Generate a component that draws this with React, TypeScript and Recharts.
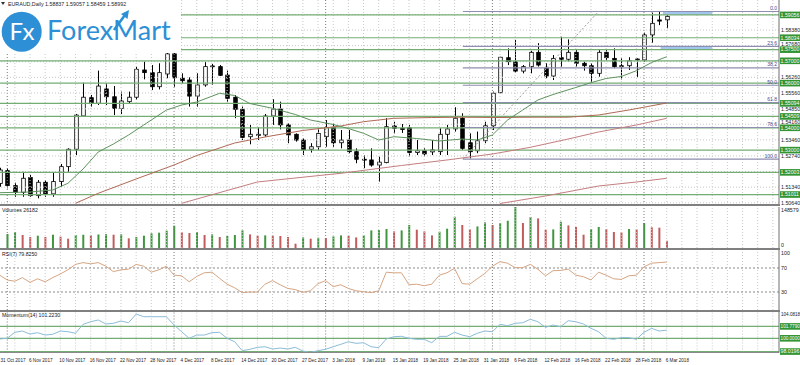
import React from "react";
import { ComposedChart, Bar, Line, XAxis, YAxis, ReferenceLine, ReferenceArea, Cell } from "recharts";

// EURAUD daily, 31 Oct 2017 .. 6 Mar 2018 (index = bar number)
const dateLabels = [
  "31 Oct 2017", "6 Nov 2017", "10 Nov 2017", "16 Nov 2017", "22 Nov 2017", "28 Nov 2017",
  "4 Dec 2017", "8 Dec 2017", "14 Dec 2017", "20 Dec 2017", "27 Dec 2017", "3 Jan 2018",
  "9 Jan 2018", "15 Jan 2018", "19 Jan 2018", "25 Jan 2018", "31 Jan 2018", "6 Feb 2018",
  "12 Feb 2018", "16 Feb 2018", "22 Feb 2018", "28 Feb 2018", "6 Mar 2018",
];
const dateIdx = [0, 4, 8, 12, 16, 20, 24, 28, 32, 36, 40, 44, 48, 52, 56, 60, 64, 68, 72, 76, 80, 84, 88];
const monthStarts = [1, 23, 43, 65, 85];

const opens = [1.5151,1.5208,1.5141,1.5111,1.5177,1.5096,1.5156,1.5104,1.5159,1.5226,
  1.5304,1.5453,1.5535,1.5510,1.5574,1.5539,1.5487,1.5517,1.5537,1.5659,
  1.5647,1.5584,1.5641,1.5731,1.5622,1.5614,1.5542,1.5592,1.5677,1.5674,
  1.5636,1.5537,1.5483,1.5360,1.5365,1.5368,1.5453,1.5484,1.5413,1.5371,
  1.5345,1.5304,1.5315,1.5360,1.5402,1.5333,1.5345,1.5293,1.5259,1.5256,
  1.5233,1.5244,1.5408,1.5398,1.5400,1.5289,1.5297,1.5292,1.5293,1.5371,
  1.5395,1.5443,1.5333,1.5297,1.5342,1.5409,1.5557,1.5714,1.5696,1.5654,
  1.5674,1.5738,1.5667,1.5632,1.5714,1.5707,1.5738,1.5689,1.5678,1.5644,
  1.5738,1.5711,1.5678,1.5678,1.5704,1.5704,1.5816,1.5883,1.58837];
const highs = [1.5221,1.5219,1.5154,1.5203,1.5189,1.5166,1.5166,1.5199,1.5238,1.5308,
  1.5462,1.5602,1.5547,1.5656,1.5599,1.5587,1.5562,1.5562,1.5674,1.5696,
  1.5681,1.5689,1.5741,1.5741,1.5644,1.5626,1.5644,1.5696,1.5686,1.5681,
  1.5656,1.5547,1.5495,1.5413,1.5402,1.5462,1.5528,1.5517,1.5420,1.5375,
  1.5353,1.5331,1.5398,1.5435,1.5420,1.5390,1.5390,1.5308,1.5278,1.5308,
  1.5271,1.5443,1.5427,1.5417,1.5413,1.5345,1.5308,1.5345,1.5398,1.5413,
  1.5492,1.5465,1.5375,1.5383,1.5427,1.5562,1.5718,1.5756,1.5793,1.5681,
  1.5745,1.5779,1.5689,1.5726,1.5808,1.5796,1.5748,1.5696,1.5689,1.5748,
  1.5748,1.5756,1.5711,1.5716,1.5711,1.5826,1.5916,1.5921,1.59057];
const lows = [1.5136,1.5129,1.5091,1.5091,1.5091,1.5084,1.5091,1.5091,1.5136,1.5203,
  1.5278,1.5450,1.5495,1.5502,1.5502,1.5457,1.5462,1.5510,1.5525,1.5617,
  1.5569,1.5572,1.5622,1.5584,1.5599,1.5495,1.5495,1.5584,1.5592,1.5632,
  1.5517,1.5443,1.5345,1.5326,1.5345,1.5360,1.5413,1.5393,1.5331,1.5338,
  1.5278,1.5289,1.5301,1.5315,1.5315,1.5308,1.5286,1.5241,1.5219,1.5226,
  1.5159,1.5241,1.5375,1.5377,1.5271,1.5278,1.5271,1.5278,1.5278,1.5278,
  1.5383,1.5301,1.5263,1.5286,1.5331,1.5390,1.5555,1.5681,1.5647,1.5644,
  1.5644,1.5674,1.5622,1.5614,1.5674,1.5696,1.5674,1.5656,1.5602,1.5629,
  1.5704,1.5667,1.5617,1.5659,1.5626,1.5696,1.5781,1.5860,1.58459];
const closes = [1.5211,1.5141,1.5111,1.5174,1.5096,1.5156,1.5104,1.5159,1.5226,1.5304,
  1.5457,1.5537,1.5510,1.5587,1.5539,1.5487,1.5520,1.5537,1.5662,1.5647,
  1.5584,1.5647,1.5731,1.5624,1.5611,1.5542,1.5592,1.5674,1.5674,1.5635,
  1.5532,1.5483,1.5357,1.5371,1.5371,1.5453,1.5484,1.5413,1.5368,1.5345,
  1.5301,1.5315,1.5375,1.5402,1.5333,1.5345,1.5293,1.5259,1.5256,1.5233,
  1.5246,1.5405,1.5398,1.5392,1.5289,1.5297,1.5283,1.5301,1.5371,1.5395,
  1.5443,1.5308,1.5293,1.5342,1.5409,1.5555,1.5716,1.5696,1.5654,1.5674,
  1.5738,1.5681,1.5632,1.5711,1.5707,1.5738,1.5689,1.5678,1.5644,1.5738,
  1.5714,1.5674,1.5675,1.5700,1.5708,1.5816,1.5868,1.5878,1.58992];
const volumes = [null,50700,58000,47100,39900,44600,39900,48200,41000,33700,
  47100,48000,46000,49000,50000,48200,49400,35000,39900,44600,
  53100,55500,62800,80900,56800,54300,58000,47100,49400,39900,
  43500,47100,64000,49300,44600,45700,45000,43500,39900,15600,
  38400,33700,37300,36200,42000,45700,44600,38400,45700,63800,
  64900,68900,60200,63800,83400,66300,60200,45700,59100,69900,
  113400,83400,67400,78300,92800,83400,90600,98900,148579,90600,
  112300,107300,66300,67400,95300,81900,76100,48200,68900,76100,
  68900,58000,56500,68900,67400,90600,74700,73600,26182];
const rsi7 = [58,50,48,54,46,52,47,54,60,67,
  76,79,77,79,73,64,67,68,76,73,
  63,67,73,58,57,47,56,62,63,53,
  43,37,29,30,30,43,49,42,36,34,
  29.5,32,44,49,39,42,36,32,30.5,29,
  32,63,62,62,42,43,40.5,43,58,62,
  69.5,44,43,52,61,73,80.5,78,70.5,70.5,
  76,68,57,65.5,66,68,58,55.5,50,63,
  58,52,51,57,58,72,78,79,79.825];
const momentum14 = [99.9,100.0,100.9,101.09,100.64,100.84,100.49,100.6,101.09,100.99,
  100.75,102.09,102.48,102.74,102.14,102.24,102.59,102.33,103.63,103.23,
  103.23,103.23,103.23,101.99,100.99,100.0,100.49,100.49,100.84,100.9,
  100.0,99.49,98.15,98.36,98.65,98.74,98.4,98.55,98.4,98.65,
  98.1,97.9,98.15,98.36,98.74,99.1,99.49,99.25,99.34,98.74,
  98.6,99.9,100.24,100.3,100.0,99.85,99.85,99.34,100.29,100.29,
  100.9,100.49,100.24,100.75,101.09,100.99,102.09,101.89,102.24,102.33,
  102.84,102.48,101.64,101.99,101.73,102.63,102.48,102.14,101.49,100.99,
  100.0,99.85,100.1,100.1,99.85,100.9,101.49,101.09,101.223];

// moving averages, read at a few bars
const maGreenIdx = [0,4,7,9,11,13,15,17,19,22,24,26,29,31,33,36,39,41,44,46,48,50,52,55,58,61,63,65,67,69,71,73,76,78,80,82,84,86,88];
const maGreenVal = [1.51093,1.51124,1.51214,1.51514,1.52154,1.52916,1.53274,1.53677,1.54125,1.54797,1.55021,1.55155,1.55545,1.55447,1.55088,1.54873,1.54596,1.54349,1.54148,1.53968,1.53753,1.53453,1.53601,1.53521,1.53409,1.53498,1.53453,1.53677,1.54349,1.54797,1.55245,1.55491,1.55805,1.5602,1.56208,1.56298,1.56557,1.56925,1.57184];
const maBrownIdx = [10,13,18,23,26,31,35,40,45,48,52,57,61,66,70,75,79,83,88];
const maBrownVal = [1.50618,1.51066,1.51707,1.52334,1.52759,1.53319,1.53588,1.53879,1.5408,1.54273,1.54425,1.5446,1.54475,1.5446,1.54475,1.54475,1.54573,1.54797,1.55111];
const maPinkIdx = [24,30,34,40,45,53,59,65,70,75,79,84,88];
const maPinkVal = [1.50618,1.51192,1.51572,1.51787,1.51962,1.52311,1.52558,1.52826,1.53126,1.53498,1.53812,1.54125,1.54425];
const maSlowIdx = [66,72,79,84,88];
const maSlowVal = [1.50609,1.50945,1.51393,1.51572,1.51738];

const levels = [1.59056, 1.58034, 1.575, 1.57, 1.56, 1.55094, 1.54509, 1.54, 1.53, 1.52003, 1.51011];
const fibLevels = [1.59209, 1.57649, 1.56684, 1.55905, 1.55125, 1.54014, 1.526];
const fibNames = ["0.0", "23.6", "38.2", "50.0", "61.8", "78.6", "100.0"];
const priceTicks = [1.5064, 1.5134, 1.5274, 1.5346, 1.5416, 1.5485, 1.5556, 1.5626, 1.5768, 1.5838];
const priceGrid = [1.5064, 1.5134, 1.5204, 1.5274, 1.5346, 1.5416, 1.5485, 1.5556, 1.5626, 1.5696, 1.5768, 1.5838, 1.5908];
const momLevels = [101.779, 100, 98.0196];
const momLabels = ["101.7790", "100.0000", "98.0196"];

const X_DOM: [number, number] = [0.04, 102.81];
const FONT = "'Liberation Sans', Arial, sans-serif";
const GREEN = "#74ad74";

const bars = opens.map((o, i) => ({
  i, o, h: highs[i], l: lows[i], c: closes[i], v: volumes[i], r: rsi7[i], m: momentum14[i],
}));
const toPts = (idx: number[], val: number[]) => idx.map((i, k) => ({ i, v: val[k] }));
const gridIdx = Array.from({ length: 52 }, (_, k) => k * 2);

function Candle(props: any) {
  const { x, y, width, height, payload } = props;
  if (x == null || payload == null) return null;
  const { o, h, l, c } = payload;
  const top = Math.min(y, y + height);
  const bot = Math.max(y, y + height);
  const k = h === l ? 0 : (bot - top) / (h - l);
  const yO = top + (h - o) * k;
  const yC = top + (h - c) * k;
  const cx = Math.round(x + width / 2) + 0.5;
  const bt = Math.min(yO, yC);
  const bh = Math.max(Math.abs(yO - yC), 0.8);
  return (
    <g>
      <line x1={cx} x2={cx} y1={top} y2={bot} stroke="#000" strokeWidth={1} />
      <rect x={cx - 1.8} y={bt} width={3.6} height={bh} fill={c >= o ? "#fff" : "#000"} stroke="#000" strokeWidth={0.8} />
    </g>
  );
}

const BoxLabel = (props: any) => {
  const { viewBox, text } = props;
  if (!viewBox) return null;
  const x = viewBox.x + viewBox.width + 1;
  return (
    <g>
      <rect x={x} y={viewBox.y - 3.3} width={20} height={6.6} fill="#339433" />
      <text x={x + 0.6} y={viewBox.y} dy="0.35em" fontSize={text.length > 7 ? 4.6 : 5.2} fill="#fff" fontFamily={FONT}>{text}</text>
    </g>
  );
};

const FibLabel = (props: any) => {
  const { viewBox, text } = props;
  if (!viewBox) return null;
  return (
    <text x={viewBox.x + viewBox.width - 2} y={viewBox.y - 1.5} textAnchor="end" fontSize={5} fill="#4a4a90" fontFamily={FONT}>{text}</text>
  );
};

function rightTick(fmt: (v: number) => string, shift: (v: number) => number = () => 0) {
  return (p: any) => {
    const s = fmt(p.payload.value);
    return (
      <text x={781} y={p.y + shift(p.payload.value)} dy="0.35em" fontSize={s.length > 7 ? 4.6 : 5.3} fill="#222" fontFamily={FONT}>
        {s}
      </text>
    );
  };
}

// price labels that sit just above a highlighted level are nudged up, as in the terminal
const priceShift = (v: number) => (v === 1.5416 || v === 1.5768 ? -1.8 : 0);

const DateTick = (p: any) => (
  <text x={Math.max(p.x - 1, 0.5)} y={51} fontSize={4.6} fill="#222" fontFamily={FONT}>
    {dateLabels[dateIdx.indexOf(p.payload.value)]}
  </text>
);

function vGrid(id: string) {
  return [
    ...gridIdx.map((k) => <ReferenceLine key={id + "g" + k} x={k} stroke="#c8c8c8" strokeDasharray="1 2" />),
    ...monthStarts.map((k) => <ReferenceLine key={id + "m" + k} x={k} stroke="#7a7a7a" strokeDasharray="1 2" />),
  ];
}

const hiddenX = <XAxis type="number" dataKey="i" domain={X_DOM} allowDataOverflow hide />;
const margin = { top: 0, right: 0, bottom: 0, left: 0 };

function PricePane() {
  return (
    <ComposedChart width={800} height={205} data={bars} margin={margin}>
      {hiddenX}
      <YAxis orientation="right" width={21} domain={[1.50542, 1.59724]} allowDataOverflow ticks={priceTicks} interval={0}
        tickLine={false} axisLine={{ stroke: "#6e6e6e" }} tick={rightTick((v) => v.toFixed(5), priceShift)} />
      {vGrid("p")}
      {priceGrid.map((v) => <ReferenceLine key={"hg" + v} y={v} stroke="#c8c8c8" strokeDasharray="1 2" />)}
      {levels.map((v) => (
        <ReferenceLine key={"lv" + v} y={v} stroke={GREEN} strokeWidth={1.2} label={<BoxLabel text={v.toFixed(5)} />} />
      ))}
      {fibLevels.map((v, k) => (
        <ReferenceLine key={"fb" + v} segment={[{ x: 61.1, y: v }, { x: 102.8, y: v }]} stroke="#8e8eb0" strokeWidth={1.2}
          label={<FibLabel text={fibNames[k]} />} />
      ))}
      <ReferenceArea x1={87.5} x2={94} y1={1.59052} y2={1.59231} fill="#9fc6ee" fillOpacity={1} stroke="none" />
      <ReferenceArea x1={87.2} x2={94} y1={1.57529} y2={1.57664} fill="#9fc6ee" fillOpacity={1} stroke="none" />
      <ReferenceLine segment={[{ x: 61.1, y: 1.526 }, { x: 79, y: 1.59209 }]} stroke="#9a9a9a" strokeDasharray="2 2" />
      <Line data={toPts(maSlowIdx, maSlowVal)} dataKey="v" stroke="#c47e80" strokeWidth={1} dot={false} activeDot={false} isAnimationActive={false} />
      <Line data={toPts(maPinkIdx, maPinkVal)} dataKey="v" stroke="#c47e80" strokeWidth={1} dot={false} activeDot={false} isAnimationActive={false} />
      <Line data={toPts(maBrownIdx, maBrownVal)} dataKey="v" stroke="#b06a55" strokeWidth={1} dot={false} activeDot={false} isAnimationActive={false} />
      <Line data={toPts(maGreenIdx, maGreenVal)} dataKey="v" stroke="#5d935d" strokeWidth={1} dot={false} activeDot={false} isAnimationActive={false} />
      <Bar dataKey={(d: any) => [d.l, d.h]} barSize={4} shape={<Candle />} activeBar={false} isAnimationActive={false} />
    </ComposedChart>
  );
}

function VolumePane() {
  return (
    <ComposedChart width={800} height={41} data={bars} margin={margin}>
      {hiddenX}
      <YAxis orientation="right" width={21} domain={[0, 148579]} allowDataOverflow ticks={[0, 148579]} interval={0}
        tickLine={false} axisLine={{ stroke: "#6e6e6e" }} tick={rightTick((v) => String(v), (v) => (v === 0 ? -3 : 3))} />
      {vGrid("v")}
      <Bar dataKey="v" barSize={2} activeBar={false} isAnimationActive={false}>
        {bars.map((d, i) => (
          <Cell key={i} fill={i === 0 || (d.v ?? 0) > (volumes[i - 1] ?? 0) ? "#3f963f" : "#c25c5c"} />
        ))}
      </Bar>
    </ComposedChart>
  );
}

function RsiPane() {
  return (
    <ComposedChart width={800} height={60} data={bars} margin={margin}>
      {hiddenX}
      <YAxis orientation="right" width={21} domain={[0, 100]} allowDataOverflow ticks={[30, 70, 100]} interval={0}
        tickLine={false} axisLine={{ stroke: "#6e6e6e" }} tick={rightTick((v) => String(v), (v) => (v === 100 ? 2.7 : 0))} />
      {vGrid("r")}
      <ReferenceLine y={70} stroke="#8a8a8a" strokeDasharray="2 2" />
      <ReferenceLine y={30} stroke="#8a8a8a" strokeDasharray="2 2" />
      <Line dataKey="r" stroke="#d6a582" strokeWidth={1} dot={false} activeDot={false} isAnimationActive={false} />
    </ComposedChart>
  );
}

function MomentumPane() {
  return (
    <ComposedChart width={800} height={54} data={bars} margin={margin}>
      <XAxis type="number" dataKey="i" domain={X_DOM} allowDataOverflow ticks={dateIdx} interval={0} height={12.5}
        tickLine={false} axisLine={{ stroke: "#8a8a8a" }} tick={<DateTick />} />
      <YAxis orientation="right" width={21} domain={[97.88, 104.0818]} allowDataOverflow ticks={[104.0818]} interval={0}
        tickLine={false} axisLine={{ stroke: "#6e6e6e" }} tick={rightTick((v) => v.toFixed(4), () => 3)} />
      {vGrid("m")}
      {momLevels.map((v, k) => (
        <ReferenceLine key={"ml" + v} y={v} stroke={GREEN} strokeWidth={1.2} label={<BoxLabel text={momLabels[k]} />} />
      ))}
      <Line dataKey="m" stroke="#8bbcd8" strokeWidth={1} dot={false} activeDot={false} isAnimationActive={false} />
    </ComposedChart>
  );
}

const sep = (top: number) => (
  <div style={{ position: "absolute", left: 0, top, width: 780, height: 2, background: "#808080" }} />
);

export default function App() {
  return (
    <div style={{ position: "absolute", left: 0, top: 0, width: 800, height: 365, background: "#fff", overflow: "hidden" }}>
      <div style={{ position: "absolute", left: 0, top: 0 }}><PricePane /></div>
      <div style={{ position: "absolute", left: 0, top: 207 }}><VolumePane /></div>
      <div style={{ position: "absolute", left: 0, top: 250 }}><RsiPane /></div>
      <div style={{ position: "absolute", left: 0, top: 311 }}><MomentumPane /></div>
      {sep(204)}
      {sep(248)}
      {sep(309.5)}
      <svg width={800} height={365} style={{ position: "absolute", left: 0, top: 0, pointerEvents: "none" }}>
        <rect x={0} y={0} width={181} height={53} fill="#fff" />
        <path d="M1,2 L5,2 L3,5 Z" fill="#333" />
        <text x={8} y={5.5} fontSize={5.3} fill="#222" fontFamily={FONT}>EURAUD,Daily  1.58837 1.59057 1.58459 1.58992</text>
        <circle cx={21.7} cy={31.7} r={20} fill="#2d8fd5" />
        <text x={9.5} y={39.5} fontSize={24} fill="#fff" fontFamily="Lato, 'Open Sans', sans-serif">Fx</text>
        <text x={47} y={39.5} fontSize={27} fill="#2d8fd5" fontFamily="Lato, 'Open Sans', sans-serif">ForexMart</text>
        <path d="M114,30 L125,15" stroke="#2d8fd5" strokeWidth={2.6} />
        <path d="M129,10 L121,14 L127.5,19 Z" fill="#2d8fd5" />
        <text x={2} y={211.5} fontSize={5.2} fill="#222" fontFamily={FONT}>Volumes 26182</text>
        <text x={2} y={256} fontSize={5.2} fill="#222" fontFamily={FONT}>RSI(7) 79.8250</text>
        <text x={2} y={317} fontSize={5.2} fill="#222" fontFamily={FONT}>Momentum(14) 101.2230</text>
      </svg>
    </div>
  );
}
